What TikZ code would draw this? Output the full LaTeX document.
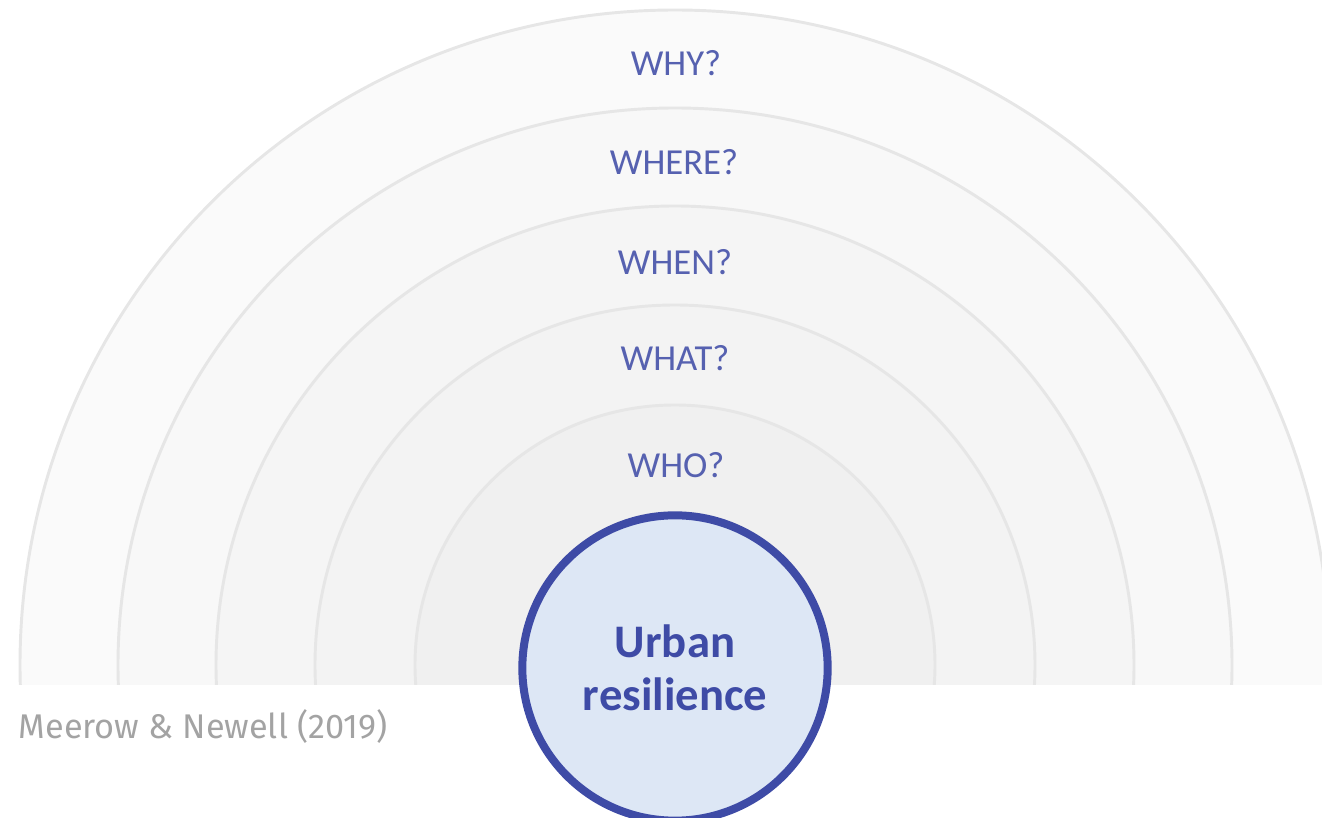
\documentclass[tikz,border=0pt]{standalone}
\usepackage{fontspec}
\setmainfont{Carlito}
\newfontfamily\citefont{Fira Sans}
\definecolor{ringline}{HTML}{E6E6E6}
\definecolor{ringA}{HTML}{FAFAFA}
\definecolor{ringB}{HTML}{F8F8F8}
\definecolor{ringC}{HTML}{F5F5F5}
\definecolor{ringD}{HTML}{F3F3F3}
\definecolor{ringE}{HTML}{F0F0F0}
\definecolor{labelblue}{HTML}{5661B0}
\definecolor{coreblue}{HTML}{3E4BA6}
\definecolor{corefill}{HTML}{DDE7F5}
\definecolor{citegray}{HTML}{A3A3A3}
\tikzset{
  ring/.style={draw=ringline, line width=2.2pt},
  question/.style={text=labelblue, font=\fontsize{27.5}{30}\selectfont},
  core/.style={circle, draw=coreblue, fill=corefill, line width=6pt, minimum size=229pt,
    text=coreblue, align=center, font=\bfseries\fontsize{35}{40}\selectfont},
}
\begin{document}
\begin{tikzpicture}[line cap=round,line join=round,x=0.75pt,y=0.75pt]
\useasboundingbox (0,0) rectangle (1322,818);
%rings
\begin{scope}
\clip (0,133) rectangle (1322,818);
\filldraw[ring, fill=ringA] (675,153) circle (655);%why
\filldraw[ring, fill=ringB] (675,153) circle (557);%where
\filldraw[ring, fill=ringC] (675,153) circle (459);%when
\filldraw[ring, fill=ringD] (675,153) circle (360);%what
\filldraw[ring, fill=ringE] (675,153) circle (260);%who
\end{scope}
%labels
    \node[question] at (676, 755)   (why) {WHY?};
    \node[question] at (674, 656)   (where) {WHERE?};
    \node[question] at (675, 556)   (when) {WHEN?};
    \node[question] at (675, 460)   (what) {WHAT?};
    \node[question] at (676, 353)   (who) {WHO?};
%%%%%%%%
\node[core] at (675,150) (core) {Urban\\resilience};
%source
\node[anchor=west, text=citegray, font=\citefont\fontsize{25.7}{28}\selectfont] at (14, 91) (source) {Meerow \& Newell (2019)};
\end{tikzpicture}
\end{document}
